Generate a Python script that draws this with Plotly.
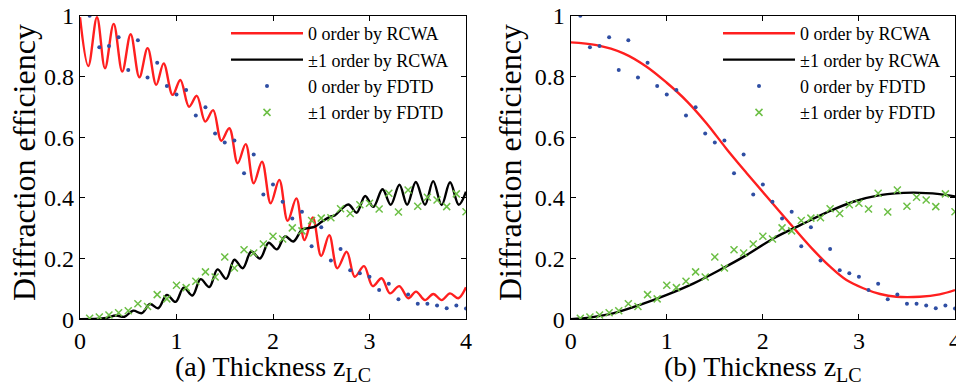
import plotly.graph_objects as go

# ---------------- data ----------------
# FDTD samples (same in both panels)
fdtd_x = [round(0.1 * i, 1) for i in range(1, 41)]
fdtd_0 = [1.000, 0.896, 0.900, 0.929, 0.821, 0.919, 0.796, 0.845, 0.768, 0.740,
          0.755, 0.671, 0.698, 0.612, 0.582, 0.589, 0.481, 0.543, 0.411, 0.444,
          0.387, 0.332, 0.354, 0.240, 0.303, 0.193, 0.231, 0.161, 0.151, 0.140,
          0.096, 0.117, 0.066, 0.081, 0.051, 0.051, 0.045, 0.036, 0.045, 0.035]
fdtd_1 = [0.003, 0.007, 0.014, 0.021, 0.028, 0.051, 0.042, 0.081, 0.067, 0.112,
          0.104, 0.125, 0.156, 0.139, 0.205, 0.169, 0.229, 0.218, 0.248, 0.273,
          0.264, 0.301, 0.291, 0.325, 0.333, 0.334, 0.364, 0.348, 0.377, 0.382,
          0.363, 0.415, 0.353, 0.426, 0.372, 0.402, 0.393, 0.371, 0.413, 0.354]

# panel (a): RCWA curves (read at peaks / troughs)
a_red_x = [0.0, 0.086, 0.176, 0.259, 0.349, 0.438, 0.525, 0.615, 0.701, 0.79,
           0.867, 0.96, 1.04, 1.13, 1.21, 1.298, 1.38, 1.464, 1.547, 1.634,
           1.717, 1.80, 1.886, 1.976, 2.065, 2.152, 2.242, 2.326, 2.412, 2.499,
           2.583, 2.666, 2.764, 2.847, 2.943, 3.033, 3.126, 3.212, 3.309, 3.402,
           3.482, 3.575, 3.661, 3.748, 3.834, 3.92, 4.0]
a_red_y = [0.995, 0.834, 0.995, 0.827, 0.973, 0.816, 0.939, 0.797, 0.893, 0.772,
           0.843, 0.739, 0.788, 0.700, 0.736, 0.651, 0.689, 0.588, 0.629, 0.514,
           0.577, 0.448, 0.519, 0.382, 0.459, 0.324, 0.398, 0.261, 0.335, 0.208,
           0.277, 0.168, 0.222, 0.140, 0.175, 0.109, 0.135, 0.085, 0.109, 0.069,
           0.091, 0.063, 0.083, 0.063, 0.085, 0.069, 0.105]
a_blk_x = [0.0, 0.25, 0.375, 0.46, 0.55, 0.64, 0.725, 0.81, 0.90, 0.99,
           1.075, 1.165, 1.25, 1.34, 1.425, 1.515, 1.60, 1.686, 1.775, 1.865,
           1.955, 2.04, 2.125, 2.21, 2.30, 2.36, 2.435, 2.505, 2.59, 2.64,
           2.78, 2.867, 2.955, 3.04, 3.135, 3.22, 3.31, 3.39, 3.48, 3.575,
           3.66, 3.748, 3.835, 3.925, 4.0]
a_blk_y = [0.0, 0.003, 0.012, 0.008, 0.028, 0.020, 0.050, 0.036, 0.080, 0.057,
           0.104, 0.078, 0.132, 0.106, 0.164, 0.133, 0.196, 0.168, 0.223, 0.200,
           0.252, 0.230, 0.273, 0.256, 0.295, 0.300, 0.305, 0.321, 0.337, 0.342,
           0.378, 0.351, 0.406, 0.370, 0.428, 0.377, 0.443, 0.377, 0.452, 0.377,
           0.455, 0.376, 0.451, 0.377, 0.420]

# panel (b): RCWA curves
b_red_x = [0.0, 0.27, 0.55, 0.79, 1.0, 1.21, 1.415, 1.62, 1.83, 2.04, 2.28,
           2.52, 2.70, 2.87, 3.045, 3.22, 3.39, 3.635, 3.84, 4.0]
b_red_y = [0.912, 0.903, 0.876, 0.832, 0.779, 0.718, 0.645, 0.562, 0.482, 0.404,
           0.316, 0.230, 0.173, 0.129, 0.102, 0.083, 0.074, 0.074, 0.082, 0.096]
b_blk_x = [0.0, 0.21, 0.44, 0.72, 1.0, 1.28, 1.55, 1.83, 2.11, 2.39, 2.66,
           2.94, 3.22, 3.56, 3.84, 4.0]
b_blk_y = [0.0, 0.006, 0.019, 0.047, 0.080, 0.118, 0.162, 0.211, 0.266, 0.310,
           0.351, 0.387, 0.409, 0.417, 0.412, 0.404]

x_ticks = [0, 1, 2, 3, 4]
x_ticktext = ["0", "1", "2", "3", "4"]
y_ticks = [0, 0.2, 0.4, 0.6, 0.8, 1.0]
y_ticktext = ["0", "0.2", "0.4", "0.6", "0.8", "1"]

names = ["0 order by RCWA", "\u00b11 order by RCWA", "0 order by FDTD", "\u00b11 order by FDTD"]
SUB = '<sub style="font-size:220%"><span style="font-size:20px">LC</span></sub>'
x_titles = ["(a) Thickness z" + SUB, "(b) Thickness z" + SUB]
y_title = "Diffraction efficiency"

# ---------------- styling ----------------
FONT = "Liberation Serif"
RED = "#ff1f1f"
BLACK = "#000000"
BLUE = "#2f4ea3"
GREEN = "#6cbf45"
W, H = 956, 390

fig = go.Figure()

panels = [
    (a_red_x, a_red_y, a_blk_x, a_blk_y, "x", "y", "legend"),
    (b_red_x, b_red_y, b_blk_x, b_blk_y, "x2", "y2", "legend2"),
]
for rx, ry, bx, by, xa, ya, lg in panels:
    fig.add_trace(go.Scatter(x=rx, y=ry, mode="lines", name=names[0],
                             line=dict(color=RED, width=2.4, shape="spline", smoothing=1.0),
                             xaxis=xa, yaxis=ya, legend=lg))
    fig.add_trace(go.Scatter(x=bx, y=by, mode="lines", name=names[1],
                             line=dict(color=BLACK, width=2.4, shape="spline", smoothing=1.0),
                             xaxis=xa, yaxis=ya, legend=lg))
    fig.add_trace(go.Scatter(x=fdtd_x, y=fdtd_0, mode="markers", name=names[2],
                             marker=dict(color=BLUE, size=4, symbol="circle"),
                             xaxis=xa, yaxis=ya, legend=lg))
    fig.add_trace(go.Scatter(x=fdtd_x, y=fdtd_1, mode="markers", name=names[3],
                             marker=dict(color=GREEN, size=7, symbol="x-thin",
                                         line=dict(color=GREEN, width=1.5)),
                             xaxis=xa, yaxis=ya, legend=lg))

# pixel geometry
ax_px = [(80, 466), (570.7, 955)]
y0_px, y1_px = 319.2, 15.7
ydom = [(H - y0_px) / H, (H - y1_px) / H]

axis_common = dict(
    showgrid=False, zeroline=False, showline=True, linecolor="black", linewidth=1.3,
    mirror="ticks", ticks="inside", ticklen=5, tickwidth=1, tickcolor="black",
    tickfont=dict(family=FONT, size=24, color="black"), automargin=False,
    ticklabeloverflow="allow",
)

layout = dict(
    width=W, height=H, margin=dict(l=0, r=0, t=0, b=0, autoexpand=False),
    paper_bgcolor="white", plot_bgcolor="white",
    font=dict(family=FONT, color="black"),
)
for i, (l, r) in enumerate(ax_px):
    sfx = "" if i == 0 else str(i + 1)
    layout["xaxis" + sfx] = dict(axis_common, domain=[l / W, r / W], range=[0, 4],
                                 tickvals=x_ticks, ticktext=x_ticktext,
                                 anchor="y" + sfx, ticklabelstandoff=0)
    layout["yaxis" + sfx] = dict(axis_common, domain=ydom, range=[0, 1],
                                 tickvals=y_ticks, ticktext=y_ticktext,
                                 anchor="x" + sfx, ticklabelstandoff=0)

leg_common = dict(font=dict(family=FONT, size=18, color="black"), bgcolor="rgba(0,0,0,0)",
                  xanchor="left", yanchor="top", itemwidth=72, tracegroupgap=0)
layout["legend"] = dict(leg_common, x=226 / W, y=1 - 15 / H)
layout["legend2"] = dict(leg_common, x=718 / W, y=1 - 15 / H)

annotations = []
for i, (l, r) in enumerate(ax_px):
    cx = (l + r) / 2
    annotations.append(dict(text=x_titles[i], xref="paper", yref="paper",
                            x=cx / W, y=1 - 368 / H, xanchor="center", yanchor="middle",
                            showarrow=False, font=dict(family=FONT, size=28, color="black")))
    ty = 24 if i == 0 else 510
    annotations.append(dict(text=y_title, xref="paper", yref="paper",
                            x=ty / W, y=1 - 163 / H, xanchor="center", yanchor="middle",
                            textangle=-90, showarrow=False,
                            font=dict(family=FONT, size=32, color="black")))
layout["annotations"] = annotations

fig.update_layout(**layout)
# remove the default 8px page margin so the figure sits at the window origin
fig.write_html("out.html", config={"displayModeBar": False},
               post_script="document.body.style.margin='0px';")
